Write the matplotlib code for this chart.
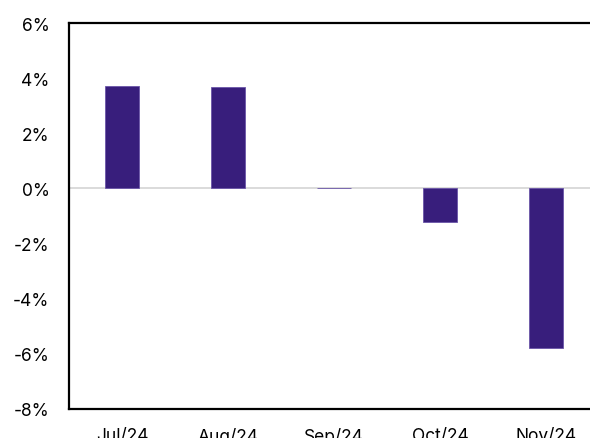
import matplotlib
matplotlib.use('Agg')
import matplotlib.pyplot as plt
from matplotlib.ticker import FuncFormatter

months = ['Jul/24', 'Aug/24', 'Sep/24', 'Oct/24', 'Nov/24']
changes = [3.70, 3.67, 0.03, -1.20, -5.80]

plt.rcParams['font.family'] = ['Inter', 'DejaVu Sans']

fig = plt.figure(figsize=(5.90, 4.39), dpi=100)
ax = fig.add_axes([69 / 590, 29 / 439, 530 / 590, 386 / 439])

x = range(len(months))
ax.bar(x, changes, width=0.32, color='#381e7c', edgecolor='#6a55a8', linewidth=0.6, zorder=3)
ax.axhline(0, color='#d4d4d4', linewidth=1.2, zorder=2)

ax.set_xlim(-0.5, len(months) - 0.5)
ax.set_ylim(-8, 6)
ax.set_yticks(range(-8, 7, 2))
ax.yaxis.set_major_formatter(FuncFormatter(lambda v, p: f'{v:.0f}%'))
ax.set_xticks(list(x))
ax.set_xticklabels(months)

ax.tick_params(axis='both', length=0, labelsize=12.5, colors='black')
ax.tick_params(axis='y', pad=14)
ax.tick_params(axis='x', pad=13)

for side in ['left', 'top', 'bottom']:
    ax.spines[side].set_linewidth(1.6)
    ax.spines[side].set_color('black')
ax.spines['right'].set_visible(False)

fig.savefig('out.png', dpi=100)
